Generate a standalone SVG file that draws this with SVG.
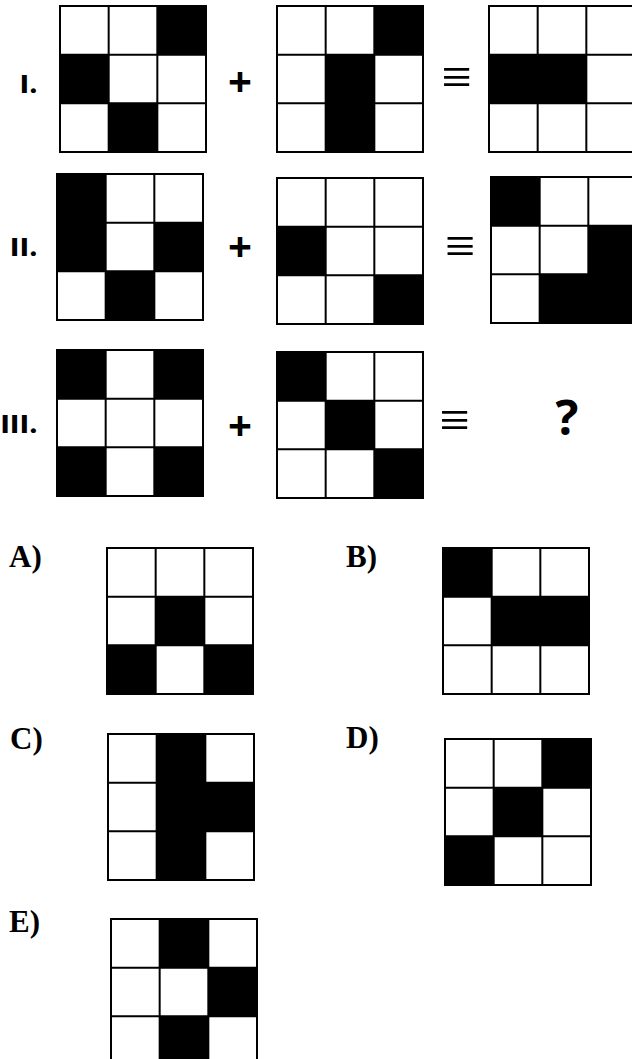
<svg xmlns="http://www.w3.org/2000/svg" xmlns:xlink="http://www.w3.org/1999/xlink" width="632" height="1059" viewBox="0 0 632 1059">
<style>
.lbl{font-family:"Open Sans","Liberation Sans",sans-serif;font-weight:800;font-size:25px;letter-spacing:1px;fill:#000}
.op{font-family:"Open Sans","Liberation Sans",sans-serif;font-weight:bold;font-size:42px;fill:#000}
.eq{font-family:"Liberation Serif",serif;font-size:54px;fill:#000}
.q{font-family:"Open Sans","Liberation Sans",sans-serif;font-weight:bold;font-size:48px;fill:#000}
.opt{font-family:"Liberation Serif","Times New Roman",serif;font-weight:bold;font-size:31px;fill:#000}
.cell{fill:#000}
.gl{fill:none;stroke:#000;stroke-width:2}
</style>
<defs>
<rect id="bg" x="0" y="0" width="146" height="146" fill="#fff"/>
<rect id="c" width="48.67" height="48.67" class="cell"/>
<path id="lines" class="gl" d="M0 0H146V146H0Z M48.67 0V146 M97.33 0V146 M0 48.67H146 M0 97.33H146"/>
</defs>
<rect width="632" height="1059" fill="#fff"/>

<g id="labels">
<text class="lbl" x="38" y="93" text-anchor="end">I.</text>
<text class="lbl" x="38" y="256" text-anchor="end">II.</text>
<text class="lbl" x="38" y="433" text-anchor="end">III.</text>
<text class="op" x="240" y="97" text-anchor="middle">+</text>
<text class="op" x="240" y="262" text-anchor="middle">+</text>
<text class="op" x="240" y="441" text-anchor="middle">+</text>
<text class="eq" x="456.5" y="95" text-anchor="middle">≡</text>
<text class="eq" x="460" y="264" text-anchor="middle">≡</text>
<text class="eq" x="454.5" y="438" text-anchor="middle">≡</text>
<text class="q" x="567" y="435" text-anchor="middle">?</text>
<text class="opt" x="9" y="567">A)</text>
<text class="opt" x="346" y="567">B)</text>
<text class="opt" x="10" y="749">C)</text>
<text class="opt" x="346" y="748">D)</text>
<text class="opt" x="9" y="932">E)</text>
</g>

<g id="g1a" transform="translate(60,6)">
<use xlink:href="#bg"/>
<use xlink:href="#c" x="97.33" y="0"/><use xlink:href="#c" x="0" y="48.67"/><use xlink:href="#c" x="48.67" y="97.33"/>
<use xlink:href="#lines"/>
</g>
<g id="g1b" transform="translate(277,6)">
<use xlink:href="#bg"/>
<use xlink:href="#c" x="97.33" y="0"/><use xlink:href="#c" x="48.67" y="48.67"/><use xlink:href="#c" x="48.67" y="97.33"/>
<use xlink:href="#lines"/>
</g>
<g id="g1c" transform="translate(489,6)">
<use xlink:href="#bg"/>
<use xlink:href="#c" x="0" y="48.67"/><use xlink:href="#c" x="48.67" y="48.67"/>
<use xlink:href="#lines"/>
</g>

<g id="g2a" transform="translate(57,174)">
<use xlink:href="#bg"/>
<use xlink:href="#c" x="0" y="0"/><use xlink:href="#c" x="0" y="48.67"/><use xlink:href="#c" x="97.33" y="48.67"/><use xlink:href="#c" x="48.67" y="97.33"/>
<use xlink:href="#lines"/>
</g>
<g id="g2b" transform="translate(277,178)">
<use xlink:href="#bg"/>
<use xlink:href="#c" x="0" y="48.67"/><use xlink:href="#c" x="97.33" y="97.33"/>
<use xlink:href="#lines"/>
</g>
<g id="g2c" transform="translate(491,177)">
<use xlink:href="#bg"/>
<use xlink:href="#c" x="0" y="0"/><use xlink:href="#c" x="97.33" y="48.67"/><use xlink:href="#c" x="48.67" y="97.33"/><use xlink:href="#c" x="97.33" y="97.33"/>
<use xlink:href="#lines"/>
</g>

<g id="g3a" transform="translate(57,350)">
<use xlink:href="#bg"/>
<use xlink:href="#c" x="0" y="0"/><use xlink:href="#c" x="97.33" y="0"/><use xlink:href="#c" x="0" y="97.33"/><use xlink:href="#c" x="97.33" y="97.33"/>
<use xlink:href="#lines"/>
</g>
<g id="g3b" transform="translate(277,352)">
<use xlink:href="#bg"/>
<use xlink:href="#c" x="0" y="0"/><use xlink:href="#c" x="48.67" y="48.67"/><use xlink:href="#c" x="97.33" y="97.33"/>
<use xlink:href="#lines"/>
</g>

<g id="optA" transform="translate(107,548)">
<use xlink:href="#bg"/>
<use xlink:href="#c" x="48.67" y="48.67"/><use xlink:href="#c" x="0" y="97.33"/><use xlink:href="#c" x="97.33" y="97.33"/>
<use xlink:href="#lines"/>
</g>
<g id="optB" transform="translate(443,548)">
<use xlink:href="#bg"/>
<use xlink:href="#c" x="0" y="0"/><use xlink:href="#c" x="48.67" y="48.67"/><use xlink:href="#c" x="97.33" y="48.67"/>
<use xlink:href="#lines"/>
</g>
<g id="optC" transform="translate(108,734)">
<use xlink:href="#bg"/>
<use xlink:href="#c" x="48.67" y="0"/><use xlink:href="#c" x="48.67" y="48.67"/><use xlink:href="#c" x="48.67" y="97.33"/><use xlink:href="#c" x="97.33" y="48.67"/>
<use xlink:href="#lines"/>
</g>
<g id="optD" transform="translate(445,739)">
<use xlink:href="#bg"/>
<use xlink:href="#c" x="97.33" y="0"/><use xlink:href="#c" x="48.67" y="48.67"/><use xlink:href="#c" x="0" y="97.33"/>
<use xlink:href="#lines"/>
</g>
<g id="optE" transform="translate(111,919)">
<use xlink:href="#bg"/>
<use xlink:href="#c" x="48.67" y="0"/><use xlink:href="#c" x="97.33" y="48.67"/><use xlink:href="#c" x="48.67" y="97.33"/>
<use xlink:href="#lines"/>
</g>
</svg>
